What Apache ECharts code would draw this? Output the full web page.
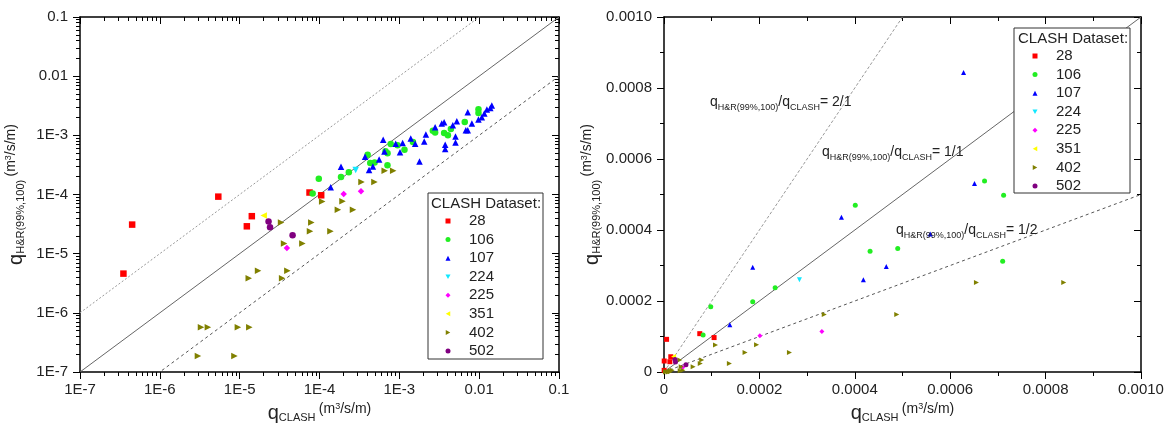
<!DOCTYPE html>
<html>
<head>
<meta charset="utf-8">
<title>q H&amp;R vs q CLASH</title>
<script src="https://cdn.jsdelivr.net/npm/echarts@6.0.0/dist/echarts.min.js"></script>
<style>
  html, body { margin: 0; padding: 0; background: #fff; }
  #chart { width: 1171px; height: 424px; }
</style>
</head>
<body>
<div id="chart"></div>
<script>
// 数据：每组 [qCLASH, qH&R]，单位 m3/s/m
const datasetNames = ['28', '106', '107', '224', '225', '351', '402', '502']

const d28 = [[4.5e-7, 3.1e-5], [3.5e-7, 4.6e-6], [5.4e-6, 9.2e-5], [1.42e-5, 4.3e-5],
  [1.23e-5, 2.9e-5], [7.5e-5, 1.08e-4], [1.05e-4, 9.7e-5]]
const d106 = [[8.2e-5, 1.04e-4], [9.8e-5, 1.84e-4], [1.86e-4, 1.98e-4], [2.33e-4, 2.37e-4],
  [4.01e-4, 4.7e-4], [4.32e-4, 3.4e-4], [4.9e-4, 3.48e-4], [7.1e-4, 3.12e-4],
  [6.72e-4, 5.38e-4], [7.12e-4, 4.98e-4], [7.8e-4, 7.14e-4], [9.5e-4, 6.8e-4],
  [1.16e-3, 5.73e-4], [1.48e-3, 7.7e-4], [2.63e-3, 1.2e-3], [2.81e-3, 1.12e-3],
  [3.64e-3, 1.1e-3], [4.06e-3, 1.0e-3], [4.42e-3, 1.28e-3], [6.6e-3, 1.68e-3],
  [9.8e-3, 2.75e-3], [9.8e-3, 2.38e-3]]
const d107 = [[1.38e-4, 1.33e-4], [1.86e-4, 2.95e-4], [3.72e-4, 4.36e-4], [4.18e-4, 2.6e-4],
  [4.66e-4, 2.97e-4], [5.58e-4, 3.89e-4], [6.28e-4, 8.44e-4], [6.51e-4, 5.31e-4],
  [9.0e-4, 7.2e-4], [1.02e-3, 5.2e-4], [1.1e-3, 7.4e-4], [1.39e-3, 8.8e-4],
  [1.58e-3, 7.2e-4], [1.79e-3, 3.62e-4], [2.05e-3, 7.9e-4], [2.15e-3, 1.03e-3],
  [2.81e-3, 1.37e-3], [3.4e-3, 1.58e-3], [3.64e-3, 1.66e-3], [3.75e-3, 6.95e-4],
  [3.75e-3, 5.9e-4], [5.05e-3, 9.6e-4], [5.05e-3, 7.6e-4], [4.68e-3, 1.48e-3],
  [5.25e-3, 1.73e-3], [6.8e-3, 1.22e-3], [7.2e-3, 1.22e-3], [8.1e-3, 1.58e-3],
  [7.2e-3, 2.45e-3], [9.8e-3, 1.85e-3], [1.08e-2, 2.02e-3], [1.16e-2, 2.33e-3],
  [1.25e-2, 2.73e-3], [1.38e-2, 2.9e-3], [1.44e-2, 3.18e-3]]
const d224 = [[2.84e-4, 2.6e-4]]
const d225 = [[3.9e-5, 1.25e-5], [2.01e-4, 1.02e-4], [3.31e-4, 1.14e-4]]
const d351 = [[2.0e-5, 4.4e-5]]
const d402 = [[3.3e-5, 3.35e-5], [7.9e-5, 3.35e-5], [7.6e-5, 2.4e-5], [1.37e-4, 2.4e-5],
  [3.6e-5, 1.48e-5], [6.1e-5, 1.48e-5], [1.08e-4, 7.6e-5], [1.7e-5, 5.15e-6],
  [1.3e-5, 3.83e-6], [3.96e-5, 5.15e-6], [3.4e-5, 3.83e-6], [3.28e-6, 5.7e-7],
  [4.0e-6, 5.7e-7], [9.5e-6, 5.7e-7], [1.32e-5, 5.7e-7], [3.0e-6, 1.87e-7],
  [8.6e-6, 1.87e-7], [1.7e-4, 5.5e-5], [1.94e-4, 7.7e-5], [2.63e-4, 5.5e-5],
  [3.36e-4, 1.62e-4], [4.88e-4, 1.62e-4], [6.55e-4, 2.52e-4], [8.38e-4, 2.52e-4]]
const d502 = [[2.3e-5, 3.5e-5], [2.4e-5, 2.8e-5], [4.6e-5, 2.05e-5]]

const datasets = { 28: d28, 106: d106, 107: d107, 224: d224, 225: d225, 351: d351, 402: d402, 502: d502 }

// 刻度标签
const logTickLabels = ['1E-7', '1E-6', '1E-5', '1E-4', '1E-3', '0.01', '0.1']
const linTickLabels = ['0', '0.0002', '0.0004', '0.0006', '0.0008', '0.0010']

// 参考线比例 qH&R / qCLASH
const leftRatios = [10, 1, 0.1]
const rightRatios = [2, 1, 0.5]
const ratioLabels = ['2/1', '1/1', '1/2']

const FONT = '"Liberation Sans", Arial, sans-serif'
const TEXT = '#222'

// 旋转三角形在图例里用路径图标
const markerStyle = {
  28: { symbol: 'rect', color: '#ff0000', rotate: 0 },
  106: { symbol: 'circle', color: '#22ee22', rotate: 0 },
  107: { symbol: 'triangle', color: '#0000ff', rotate: 0 },
  224: { symbol: 'triangle', color: '#11e8ff', rotate: 180, icon: 'path://M0,0L10,0L5,9Z' },
  225: { symbol: 'diamond', color: '#ff00ff', rotate: 0 },
  351: { symbol: 'triangle', color: '#ffff00', rotate: 90, icon: 'path://M9,0L0,5L9,10Z' },
  402: { symbol: 'triangle', color: '#808000', rotate: -90, icon: 'path://M0,0L9,5L0,10Z' },
  502: { symbol: 'circle', color: '#800080', rotate: 0 }
}

const leftLineStyle = {
  10: { color: '#999', width: 1, type: [2, 2] },
  1: { color: '#666', width: 1, type: 'solid' },
  0.1: { color: '#555', width: 1, type: [3, 3] }
}
const rightLineStyle = {
  2: { color: '#999', width: 1, type: [3, 2] },
  1: { color: '#666', width: 1, type: 'solid' },
  0.5: { color: '#555', width: 1, type: [3, 3] }
}

// 对数轴次刻度 (2..9 x 10^k)，在 log10 空间
const minorLog = []
for (let k = -7; k < -1; k++) {
  for (let m = 2; m <= 9; m++) minorLog.push(k + Math.log10(m))
}

const nameRich = {
  q: { fontSize: 20, lineHeight: 22, fontFamily: FONT, color: TEXT, verticalAlign: 'bottom' },
  s: { fontSize: 11, lineHeight: 11, fontFamily: FONT, color: TEXT, verticalAlign: 'bottom' },
  u: { fontSize: 14, lineHeight: 18, fontFamily: FONT, color: TEXT, verticalAlign: 'top' },
  p: { fontSize: 9, lineHeight: 12, fontFamily: FONT, color: TEXT, verticalAlign: 'top' }
}
const xName = '{q|q}{s|CLASH} {u|(m}{p|3}{u|/s/m)}'
const yName = '{q|q}{s|H&R(99%,100)} {u|(m}{p|3}{u|/s/m)}'

const axisLine = { show: true, onZero: false, lineStyle: { color: '#000', width: 1.5 } }
const labelStyle = { fontSize: 15, color: TEXT, fontFamily: FONT }

/**
 * 对数坐标（log10 空间的数值轴），一个方向返回主刻度轴和次刻度轴
 */
function logAxes (gridIndex, position, dim) {
  const outer = position === 'bottom' || position === 'left'
  const base = { type: 'value', gridIndex, position, min: -7, max: -1, splitLine: { show: false } }
  const major = {
    ...base,
    interval: 1,
    axisLine,
    axisTick: { show: true, inside: !outer, length: 7, lineStyle: { color: '#000' } },
    axisLabel: {
      show: outer,
      ...labelStyle,
      margin: dim === 'x' ? 10 : 12,
      formatter: v => logTickLabels[Math.round(v) + 7]
    }
  }
  if (outer) {
    Object.assign(major, {
      name: dim === 'x' ? xName : yName,
      nameLocation: 'middle',
      nameGap: dim === 'x' ? 27 : 54,
      nameTextStyle: { rich: nameRich }
    })
  }
  const minor = {
    ...base,
    axisLine: { show: false, onZero: false },
    axisTick: { show: true, inside: !outer, length: 4, customValues: minorLog, lineStyle: { color: '#000' } },
    axisLabel: { show: false }
  }
  return [major, minor]
}

/**
 * 线性坐标
 */
function linAxis (gridIndex, position, dim) {
  const outer = position === 'bottom' || position === 'left'
  const axis = {
    type: 'value',
    gridIndex,
    position,
    min: 0,
    max: 0.001,
    interval: 0.0002,
    splitLine: { show: false },
    axisLine,
    axisTick: { show: true, inside: !outer, length: 7, lineStyle: { color: '#000' } },
    minorTick: { show: true, splitNumber: 2, length: 4, lineStyle: { color: '#000' } },
    axisLabel: {
      show: outer,
      ...labelStyle,
      margin: dim === 'x' ? 10 : 12,
      formatter: v => linTickLabels[Math.round(v / 0.0002)]
    }
  }
  if (outer) {
    Object.assign(axis, {
      name: dim === 'x' ? xName : yName,
      nameLocation: 'middle',
      nameGap: dim === 'x' ? 27 : 52,
      nameTextStyle: { rich: nameRich }
    })
  }
  return axis
}

const xAxis = [
  ...logAxes(0, 'bottom', 'x'), ...logAxes(0, 'top', 'x'),
  linAxis(1, 'bottom', 'x'), linAxis(1, 'top', 'x')
]
const yAxis = [
  ...logAxes(0, 'left', 'y'), ...logAxes(0, 'right', 'y'),
  linAxis(1, 'left', 'y'), linAxis(1, 'right', 'y')
]

const series = []
datasetNames.forEach(name => {
  const st = markerStyle[name]
  const common = {
    type: 'scatter',
    name,
    symbol: st.symbol,
    symbolRotate: st.rotate,
    itemStyle: { color: st.color, opacity: 1 },
    z: 3
  }
  series.push({
    ...common,
    xAxisIndex: 0,
    yAxisIndex: 0,
    symbolSize: 6.5,
    data: datasets[name].map(([x, y]) => [Math.log10(x), Math.log10(y)])
  })
  series.push({
    ...common,
    xAxisIndex: 4,
    yAxisIndex: 4,
    symbolSize: 5,
    data: datasets[name].filter(([x, y]) => x <= 0.001 && y <= 0.001)
  })
})

leftRatios.forEach(r => {
  series.push({
    type: 'line',
    name: 'left ' + r,
    xAxisIndex: 0,
    yAxisIndex: 0,
    showSymbol: false,
    silent: true,
    lineStyle: leftLineStyle[r],
    data: [[1e-7, 1e-7 * r], [0.1, 0.1 * r]].map(([x, y]) => [Math.log10(x), Math.log10(y)]),
    z: 2
  })
})
rightRatios.forEach(r => {
  series.push({
    type: 'line',
    name: 'right ' + r,
    xAxisIndex: 4,
    yAxisIndex: 4,
    showSymbol: false,
    silent: true,
    lineStyle: rightLineStyle[r],
    data: [[0, 0], [0.001, 0.001 * r]],
    z: 2
  })
})

// 图例：图标 5px，文字用 rich padding 右移
const legendData = datasetNames.map(name => {
  const st = markerStyle[name]
  return st.icon ? { name, icon: st.icon } : { name }
})
const legendBase = {
  data: legendData,
  orient: 'vertical',
  itemWidth: 5,
  itemHeight: 5,
  itemGap: 3.57,
  padding: 0,
  selectedMode: false,
  formatter: n => '{t|' + n + '}',
  textStyle: {
    fontSize: 15,
    lineHeight: 15,
    color: TEXT,
    fontFamily: FONT,
    rich: { t: { fontSize: 15, lineHeight: 15, color: TEXT, fontFamily: FONT, padding: [0, 0, 0, 13.5] } }
  },
  z: 6
}

const annoRich = {
  a: { fontSize: 14, lineHeight: 16, fontFamily: FONT, color: TEXT, verticalAlign: 'bottom' },
  b: { fontSize: 9, lineHeight: 10, fontFamily: FONT, color: TEXT, verticalAlign: 'bottom', padding: [0, 0, -3, 0] }
}
const annoPos = [[710, 93], [822, 143], [896, 221]]

const graphic = [
  { type: 'rect', shape: { x: 428, y: 193, width: 115, height: 166 }, style: { fill: '#fff', stroke: '#333', lineWidth: 1 }, z: 5 },
  { type: 'rect', shape: { x: 1014, y: 28, width: 116, height: 165 }, style: { fill: '#fff', stroke: '#333', lineWidth: 1 }, z: 5 },
  { type: 'text', x: 431, y: 196, z: 6, style: { text: 'CLASH Dataset:', fontSize: 15, fontFamily: FONT, fill: TEXT } },
  { type: 'text', x: 1018, y: 31, z: 6, style: { text: 'CLASH Dataset:', fontSize: 15, fontFamily: FONT, fill: TEXT } },
  ...ratioLabels.map((lab, i) => ({
    type: 'text',
    x: annoPos[i][0],
    y: annoPos[i][1],
    z: 6,
    style: { text: '{a|q}{b|H&R(99%,100)}{a|/q}{b|CLASH}{a|= ' + lab + '}', rich: annoRich, fill: TEXT }
  }))
]

const chart = echarts.init(document.getElementById('chart'), null, { renderer: 'canvas' })
chart.setOption({
  backgroundColor: '#fff',
  animation: false,
  grid: [
    { left: 80, top: 17, width: 479, height: 355, outerBoundsMode: 'none' },
    { left: 664, top: 17, width: 477, height: 355, outerBoundsMode: 'none' }
  ],
  xAxis,
  yAxis,
  legend: [
    { ...legendBase, left: 445.5, top: 213.5 },
    { ...legendBase, left: 1032.5, top: 48.5 }
  ],
  graphic,
  series
})
</script>
</body>
</html>
